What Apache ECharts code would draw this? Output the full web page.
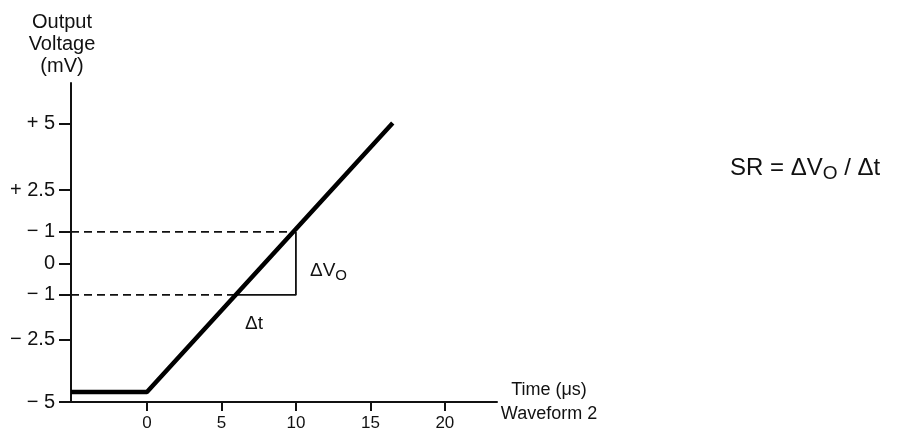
<!DOCTYPE html>
<html><head><meta charset="utf-8">
<script src="https://cdn.jsdelivr.net/npm/echarts@6/dist/echarts.min.js"></script>
<style>html,body{margin:0;padding:0;background:#fff}#c{width:899px;height:434px}</style>
</head><body><div id="c"></div>
<script>
// x: time (µs); y: output voltage (schematic mV scale)
const xTicks = [0, 5, 10, 15, 20];
const yTickPos = [4.45, 2.33, 1, 0, -1, -2.43, -4.4];
const yTickLabels = ['+ 5', '+ 2.5', '\u2212 1', '0', '\u2212 1', '\u2212 2.5', '\u2212 5'];
const waveX = [-5.1, 0, 16.5];
const waveY = [-4.08, -4.08, 4.46];
const upperX = [-5.1, 10];   // dashed reference at +1
const upperY = [1, 1];
const lowerX = [-5.1, 5.97]; // dashed reference at -1
const lowerY = [-1, -1];
const triX = [5.97, 10, 10];
const triY = [-1, -1, 1];

const F = 'Liberation Sans, Arial, Helvetica, sans-serif';
const zip = (a, b) => a.map((v, i) => [v, b[i]]);
const labelMap = {};
yTickPos.forEach((p, i) => labelMap[p] = yTickLabels[i]);

const chart = echarts.init(document.getElementById('c'));
chart.setOption({
  animation: false,
  backgroundColor: '#fff',
  grid: { left: 71, right: 402, top: 83, bottom: 32 },
  xAxis: {
    type: 'value', min: -5.1, max: 23.5,
    axisLine: { show: true, onZero: false, lineStyle: { color: '#111', width: 2 } },
    axisTick: { show: true, customValues: xTicks, length: 9, lineStyle: { color: '#111', width: 2 } },
    axisLabel: { customValues: xTicks, color: '#111', fontFamily: F, fontSize: 17, margin: 13 },
    splitLine: { show: false },
    name: 'Time (\u03bcs)\nWaveform 2', nameLocation: 'end', nameGap: 52,
    nameTextStyle: { color: '#111', fontFamily: F, fontSize: 18, align: 'center', verticalAlign: 'middle', lineHeight: 24 }
  },
  yAxis: {
    type: 'value', min: -4.4, max: 5.73,
    axisLine: { show: true, onZero: false, lineStyle: { color: '#111', width: 2 } },
    axisTick: { show: true, customValues: yTickPos, length: 12, lineStyle: { color: '#111', width: 2 } },
    axisLabel: { customValues: yTickPos, color: '#111', fontFamily: F, fontSize: 20, margin: 16,
      formatter: v => labelMap[v] !== undefined ? labelMap[v] : '' },
    splitLine: { show: false },
    name: 'Output\nVoltage\n(mV)', nameLocation: 'end', nameGap: 6,
    nameTextStyle: { color: '#111', fontFamily: F, fontSize: 20, align: 'center', verticalAlign: 'bottom', lineHeight: 22, padding: [0, 18, 0, 0] }
  },
  series: [
    { type: 'line', data: zip(upperX, upperY), symbol: 'none', silent: true,
      lineStyle: { color: '#111', width: 1.8, type: [8, 5] } },
    { type: 'line', data: zip(lowerX, lowerY), symbol: 'none', silent: true,
      lineStyle: { color: '#111', width: 1.8, type: [8, 5] } },
    { type: 'line', data: zip(triX, triY), symbol: 'none', silent: true,
      lineStyle: { color: '#111', width: 1.8 } },
    { type: 'line', data: zip(waveX, waveY), symbol: 'none', silent: true,
      lineStyle: { color: '#000', width: 4.5, cap: 'butt', join: 'bevel' } }
  ],
  graphic: [
    { type: 'text', left: 310, top: 261, style: { rich: {
        a: { fontFamily: F, fontSize: 19, fill: '#111' },
        s: { fontFamily: F, fontSize: 15, fill: '#111', padding: [10, 0, 0, 0] } },
        text: '{a|\u0394V}{s|O}' } },
    { type: 'text', left: 245, top: 314, style: { text: '\u0394t', fontFamily: F, fontSize: 19, fill: '#111' } },
    { type: 'text', left: 730, top: 156, style: { rich: {
        a: { fontFamily: F, fontSize: 24, fill: '#111' },
        s: { fontFamily: F, fontSize: 19, fill: '#111', padding: [11, 0, 0, 0] } },
        text: '{a|SR = \u0394V}{s|O}{a| / \u0394t}' } }
  ]
});
</script></body></html>
